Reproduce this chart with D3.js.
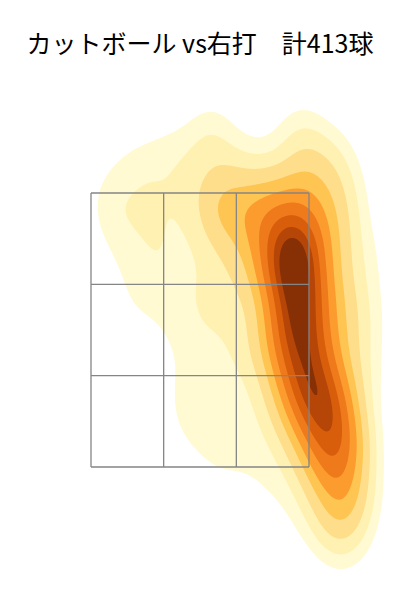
<!DOCTYPE html>
<html>
<head>
<meta charset="utf-8">
<script src="https://cdn.jsdelivr.net/npm/d3@7"></script>
<style>
  body { margin: 0; background: #fff; }
</style>
</head>
<body>
<svg></svg>
<script>
// DATA: binned pitch locations, cm (x: from plate centre, catcher's view; z: height)
const TITLE = "カットボール vs右打　計413球";

const pitchZ = [], pitchX = [], pitchCount = [];
function addRow(z, xs, counts) {
    xs.forEach((x, i) => { pitchZ.push(z); pitchX.push(x); pitchCount.push(counts[i]); });
}
addRow(119, [2, 20], [2, 2]);
addRow(114, [-14, -6, 2, 10, 20, 26], [1, 2, 3, 1, 3, 2]);
addRow(109, [-17, -10, -2, 6, 14, 21, 27], [1, 2, 2, 3, 2, 4, 3]);
addRow(104, [-18, -11, -3, 4, 11, 17, 22, 28], [2, 2, 2, 6, 6, 5, 5, 3]);
addRow(99,  [-17, -10, -3, 4, 10, 14, 17, 21, 25, 29], [2, 2, 1, 5, 5, 4, 6, 6, 3, 2]);
addRow(94,  [-16, -9, -2, 4, 10, 14, 17, 20, 24, 28, 33], [1, 2, 1, 2, 3, 3, 10, 10, 3, 2, 1]);
addRow(89,  [-15, -8, -1, 5, 10, 14, 17, 20, 24, 28, 33], [1, 2, 1, 2, 2, 3, 10, 10, 3, 2, 1]);
addRow(84,  [-14, -7, 0, 6, 11, 14, 18, 21, 25, 29, 33], [1, 1, 2, 2, 1, 2, 9, 9, 3, 2, 1]);
addRow(79,  [-13, -6, 1, 7, 12, 15, 18, 21, 26, 30, 33], [1, 1, 2, 1, 1, 2, 9, 9, 3, 2, 1]);
addRow(74,  [-5, 2, 8, 13, 16, 19, 22, 26, 30, 33], [1, 1, 2, 2, 3, 8, 8, 3, 1, 1]);
addRow(69,  [-4, 3, 9, 14, 17, 20, 23, 27, 30, 33], [1, 1, 1, 1, 3, 8, 8, 3, 1, 1]);
addRow(64,  [-2, 5, 11, 16, 19, 22, 25, 28, 31], [2, 1, 1, 2, 3, 9, 8, 3, 1]);
addRow(59,  [-4, 1, 8, 14, 18, 21, 24, 27, 30], [1, 1, 1, 1, 2, 3, 8, 7, 2]);
addRow(54,  [-1, 4, 11, 17, 21, 24, 27, 30], [1, 1, 1, 1, 2, 4, 8, 4]);
addRow(49,  [3, 8, 15, 21, 24, 27, 30], [1, 1, 1, 1, 3, 6, 3]);
addRow(44,  [13, 20, 25, 28, 31], [1, 1, 1, 6, 2]);
addRow(39,  [20, 25, 28, 31], [1, 1, 4, 1]);
addRow(34,  [26, 29], [1, 2]);

const ZONE_X = [-21.8, 21.8];
const ZONE_Z = [50, 104.8];

// CONFIG
const WIDTH = 400, HEIGHT = 600;
const BW_X = 4.0, BW_Z = 5.0;        // kernel bandwidth, cm
const GRID_STEP = 0.4;               // cm
const ISO_PROPS = d3.range(10).map(i => 0.05 + i * 0.95 / 9);
const BAND_COLORS = ["#fffad2", "#fff1b1", "#fedd8b", "#fec552", "#fd9c2e",
                     "#ef7a1b", "#d85e0c", "#b54608", "#873006"];
const GRID_COLOR = "#858585";

const xScale = d3.scaleLinear().domain(ZONE_X).range([91, 309]);
const yScale = d3.scaleLinear().domain(ZONE_Z).range([467, 193]);

const svg = d3.select('svg')
    .attr('width', WIDTH)
    .attr('height', HEIGHT)
    .style('background-color', '#fff');

// title
svg.append('text')
    .attr('x', 200)
    .attr('y', 53)
    .attr('text-anchor', 'middle')
    .style('font-family', '"Noto Sans CJK JP", "Noto Sans", sans-serif')
    .style('font-size', '25px')
    .style('fill', '#000')
    .text(TITLE);

// KDE on a grid covering the plot area
const x0 = xScale.invert(0), x1 = xScale.invert(WIDTH);
const z0 = yScale.invert(HEIGHT), z1 = yScale.invert(70);
const nx = Math.ceil((x1 - x0) / GRID_STEP);
const nz = Math.ceil((z1 - z0) / GRID_STEP);
const grid = new Float64Array(nx * nz);

for (let j = 0; j < nz; j++) {
    const z = z1 - j * GRID_STEP;   // row 0 at top
    for (let i = 0; i < nx; i++) {
        const x = x0 + i * GRID_STEP;
        let s = 0;
        for (let k = 0; k < pitchX.length; k++) {
            const dx = (x - pitchX[k]) / BW_X, dz = (z - pitchZ[k]) / BW_Z;
            s += pitchCount[k] * Math.exp(-0.5 * (dx * dx + dz * dz));
        }
        grid[j * nx + i] = s;
    }
}

// iso-proportion levels (share of mass outside each contour)
function quantileToLevel(values, props) {
    const sorted = Array.from(values).sort((a, b) => b - a);
    const total = d3.sum(sorted);
    const cum = [];
    let acc = 0;
    for (const v of sorted) { acc += v; cum.push(acc / total); }
    return props.map(p => {
        const idx = d3.bisectLeft(cum, 1 - p);
        return sorted[Math.min(idx, sorted.length - 1)];
    });
}
const levels = quantileToLevel(grid, ISO_PROPS).slice(0, 9);

const contours = d3.contours().size([nx, nz]).thresholds(levels)(grid);

const project = d3.geoTransform({
    point: function (gx, gz) {
        this.stream.point(xScale(x0 + gx * GRID_STEP), yScale(z1 - gz * GRID_STEP));
    }
});

svg.append('g')
    .selectAll('path')
    .data(contours)
    .enter()
    .append('path')
    .attr('d', d3.geoPath(project))
    .style('fill', (d, i) => BAND_COLORS[i])
    .style('stroke', 'none');

// strike zone 3x3
const zoneCols = d3.range(4).map(i => ZONE_X[0] + i * (ZONE_X[1] - ZONE_X[0]) / 3);
const zoneRows = d3.range(4).map(i => ZONE_Z[0] + i * (ZONE_Z[1] - ZONE_Z[0]) / 3);
const zoneG = svg.append('g')
    .style('stroke', GRID_COLOR)
    .style('stroke-width', 1.3);

zoneG.selectAll('.vline')
    .data(zoneCols)
    .enter()
    .append('line')
    .attr('x1', d => xScale(d)).attr('x2', d => xScale(d))
    .attr('y1', yScale(ZONE_Z[0])).attr('y2', yScale(ZONE_Z[1]));

zoneG.selectAll('.hline')
    .data(zoneRows)
    .enter()
    .append('line')
    .attr('y1', d => yScale(d)).attr('y2', d => yScale(d))
    .attr('x1', xScale(ZONE_X[0])).attr('x2', xScale(ZONE_X[1]));
</script>
</body>
</html>
